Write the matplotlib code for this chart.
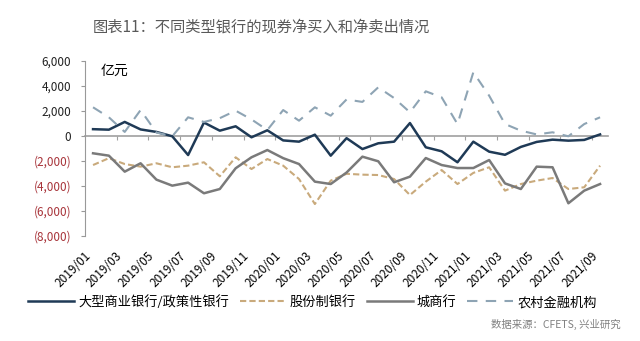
import matplotlib
matplotlib.use("Agg")
import matplotlib.pyplot as plt
import numpy as np

plt.rcParams['font.family'] = ['Noto Sans CJK SC', 'DejaVu Sans']

# months 2019/01 .. 2021/09
months = [f"{y}/{m:02d}" for y in (2019, 2020, 2021) for m in range(1, 13)][:33]

# 亿元
big_banks = [520, 480, 1100, 500, 300, -50, -1550, 1050, 400, 750, -130,
             430, -380, -480, 80, -1600, -200, -1070, -610, -480, 1010, -930,
             -1250, -2130, -480, -1280, -1530, -900, -500, -320, -400, -340, 100]
joint_stock = [-2350, -1800, -2270, -2480, -2210, -2530, -2400, -2130, -3250,
               -1730, -2670, -1870, -2400, -3470, -5470, -3600, -3050, -3120,
               -3150, -3470, -4750, -3680, -2750, -3870, -2980, -2530, -4400,
               -3870, -3600, -3390, -4270, -4130, -2400]
city_banks = [-1410, -1600, -2880, -2210, -3520, -4000, -3760, -4610, -4270,
              -2610, -1730, -1150, -1800, -2270, -3680, -3870, -2950, -1680,
              -2050, -3730, -3280, -1790, -2350, -2590, -2590, -1950, -3820,
              -4270, -2480, -2530, -5410, -4400, -3870]
rural = [2270, 1470, 300, 2050, 250, -50, 1470, 1100, 1400, 2000, 1300, 450,
         2050, 1200, 2270, 1600, 2900, 2700, 3870, 3010, 1870, 3550, 3070,
         930, 5070, 3200, 930, 400, 100, 270, -50, 930, 1470]

names = ['大型商业银行/政策性银行', '股份制银行', '城商行', '农村金融机构']
yticks = [6000, 4000, 2000, 0, -2000, -4000, -6000, -8000]

fig = plt.figure(figsize=(6.4, 3.41), dpi=100)
ax = fig.add_axes([0.133, 0.309, 0.817, 0.513])
x = np.arange(len(months))

ax.plot(x, big_banks, color='#1F3A56', lw=1.8, label=names[0])
ax.plot(x, joint_stock, color='#C9AA7C', lw=1.5, dashes=(3, 1.5), label=names[1])
ax.plot(x, city_banks, color='#7A7A7A', lw=1.8, label=names[2])
ax.plot(x, rural, color='#8EA4B4', lw=1.5, dashes=(5, 4), label=names[3])

ax.set_xlim(-0.5, len(months) - 0.5)
ax.set_ylim(-8000, 6000)

# y axis
ax.set_yticks(yticks)
ylabels = []
for v in yticks:
    ylabels.append(f"{v:,}" if v >= 0 else f"({-v:,})")
ax.set_yticklabels(ylabels, fontsize=8.5)
for lab, v in zip(ax.get_yticklabels(), yticks):
    lab.set_color('#222222' if v >= 0 else '#A8343A')
ax.tick_params(axis='y', length=3, width=0.8, color='#999999', pad=7)
ax.spines['left'].set_color('#999999')
ax.spines['right'].set_visible(False)
ax.spines['top'].set_visible(False)

# zero line with ticks between every two months
ax.spines['bottom'].set_position(('data', 0))
ax.spines['bottom'].set_color('#A0A0A0')
ax.spines['bottom'].set_linewidth(1.2)
ax.spines['bottom'].set_zorder(0)
ax.set_xticks(np.arange(1.5, len(months) - 1, 2))
ax.tick_params(axis='x', length=3, width=0.8, color='#A0A0A0', labelbottom=False)

# month labels below the plot
sec = ax.secondary_xaxis(0.0)
sec.set_xticks(x[::2])
sec.set_xticklabels(months[::2], rotation=45, ha='right', fontsize=8.5)
sec.tick_params(length=0, pad=10)
sec.spines['bottom'].set_visible(False)

ax.text(0.03, 0.945, '亿元', transform=ax.transAxes, fontsize=10, va='center')

fig.text(0.408, 0.921, '图表11：不同类型银行的现券净买入和净卖出情况',
         ha='center', va='center', fontsize=11, color='#595959')
fig.legend(loc='center', bbox_to_anchor=(0.488, 0.114), ncol=4, frameon=False,
           fontsize=9.5, handlelength=3.5, handletextpad=0.3, columnspacing=0.8)
fig.text(0.97, 0.047, '数据来源：CFETS, 兴业研究', ha='right', va='center',
         fontsize=7.5, color='#808080')

fig.savefig('out.png', dpi=100)
